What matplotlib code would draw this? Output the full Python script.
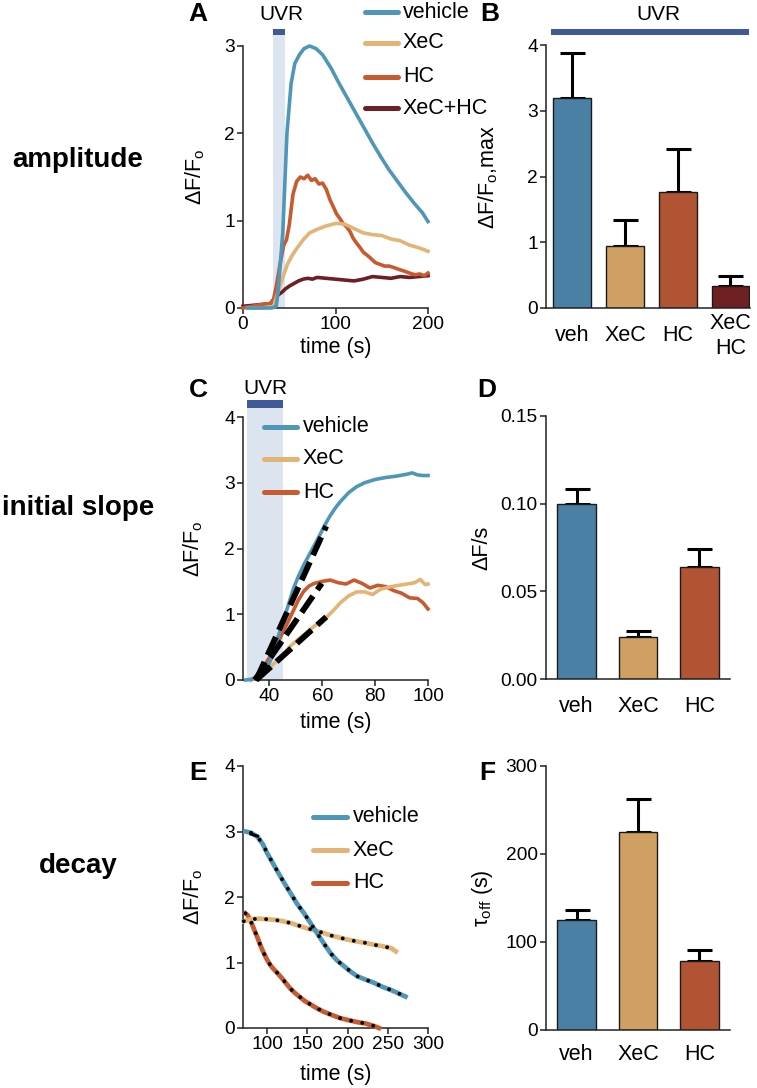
import numpy as np
import matplotlib
matplotlib.use('Agg')
import matplotlib.pyplot as plt
from matplotlib.lines import Line2D
from matplotlib.patches import Rectangle

plt.rcParams['font.family'] = ['Liberation Sans', 'DejaVu Sans']
plt.rcParams['mathtext.fontset'] = 'custom'
plt.rcParams['mathtext.rm'] = 'Liberation Sans'
plt.rcParams['mathtext.it'] = 'Liberation Sans:italic'
plt.rcParams['mathtext.bf'] = 'Liberation Sans:bold'

# ---------------- data ----------------
# Panel A (amplitude traces)
a_veh_t = [5, 20, 31, 36, 38, 43, 47.5, 52, 56, 61, 66, 72, 79, 86, 95, 104, 113, 122, 131, 140, 149, 158, 167, 176, 185, 194, 200]
a_veh_v = [0, 0, 0, 0.02, 0.2, 0.86, 2.0, 2.57, 2.8, 2.9, 2.97, 3.0, 2.97, 2.9, 2.75, 2.57, 2.4, 2.23, 2.06, 1.89, 1.73, 1.58, 1.45, 1.32, 1.2, 1.09, 0.99]
a_xec_t = [5, 20, 33, 36, 40, 44, 48, 53, 58, 65, 72, 80, 90, 101, 110, 120, 130, 140, 150, 160, 170, 180, 190, 200]
a_xec_v = [0, 0, 0.02, 0.12, 0.25, 0.38, 0.5, 0.6, 0.68, 0.78, 0.86, 0.9, 0.94, 0.97, 0.96, 0.91, 0.86, 0.84, 0.83, 0.79, 0.77, 0.72, 0.69, 0.65]
a_hc_t = [0, 10, 20, 29, 33, 36, 40, 44, 47, 50, 54, 58, 62, 66, 70, 74, 78, 82, 86, 90, 94, 98, 101, 105, 108, 112, 116, 119, 123, 126, 130, 137, 143, 148, 153, 158, 164, 169, 175, 180, 186, 191, 196, 200]
a_hc_v = [0, 0.02, 0.04, 0.05, 0.1, 0.25, 0.5, 0.72, 0.78, 0.95, 1.3, 1.45, 1.5, 1.48, 1.52, 1.46, 1.48, 1.42, 1.43, 1.36, 1.24, 1.15, 1.08, 1.02, 0.97, 0.93, 0.87, 0.8, 0.74, 0.7, 0.64, 0.58, 0.52, 0.5, 0.48, 0.48, 0.46, 0.44, 0.42, 0.4, 0.38, 0.39, 0.37, 0.4]
a_xh_t = [0, 10, 20, 30, 34, 38, 42, 46, 50, 55, 60, 65, 70, 75, 80, 90, 100, 110, 120, 130, 140, 150, 160, 170, 180, 190, 200]
a_xh_v = [0.02, 0.03, 0.04, 0.05, 0.08, 0.15, 0.18, 0.22, 0.25, 0.28, 0.31, 0.33, 0.34, 0.33, 0.35, 0.34, 0.33, 0.32, 0.31, 0.33, 0.36, 0.35, 0.34, 0.36, 0.35, 0.36, 0.37]

# Panel B (max amplitude bars)
b_labels = ['veh', 'XeC', 'HC', 'XeC\nHC']
b_vals = [3.2, 0.94, 1.77, 0.34]
b_err = [0.68, 0.40, 0.65, 0.14]

# Panel C (initial slope traces)
c_veh_t = [31, 33, 35, 37, 39, 41, 43, 45, 47, 49, 51, 53, 55, 57, 59, 61, 63, 65, 67, 70, 73, 76, 80, 84, 88, 92, 94, 96, 98, 100]
c_veh_v = [0, 0.01, 0.03, 0.08, 0.18, 0.35, 0.62, 0.88, 1.12, 1.38, 1.58, 1.75, 1.9, 2.05, 2.2, 2.36, 2.5, 2.62, 2.72, 2.85, 2.94, 3.0, 3.05, 3.08, 3.1, 3.13, 3.15, 3.12, 3.11, 3.11]
c_xec_t = [33, 35, 37, 39, 41, 43, 45, 48, 51, 54, 57, 61, 64, 67, 70, 73, 76, 79, 82, 86, 89, 92, 95, 97, 99, 100]
c_xec_v = [0, 0.03, 0.08, 0.15, 0.22, 0.3, 0.38, 0.52, 0.62, 0.72, 0.82, 0.93, 1.05, 1.18, 1.28, 1.34, 1.34, 1.3, 1.38, 1.42, 1.44, 1.46, 1.48, 1.53, 1.45, 1.46]
c_hc_t = [33, 35, 37, 39, 41, 43, 45, 47, 49, 51, 53, 55, 57, 60, 63, 66, 69, 72, 75, 78, 81, 84, 87, 90, 93, 96, 98, 100]
c_hc_v = [0, 0.05, 0.15, 0.28, 0.4, 0.55, 0.72, 0.88, 1.05, 1.22, 1.35, 1.43, 1.47, 1.5, 1.52, 1.48, 1.46, 1.52, 1.47, 1.4, 1.44, 1.42, 1.36, 1.32, 1.25, 1.24, 1.18, 1.08]
c_fit_veh_t, c_fit_veh_v = [35, 61.5], [0, 2.34]
c_fit_xec_t, c_fit_xec_v = [35, 61.5], [0, 0.96]
c_fit_hc_t, c_fit_hc_v = [34.5, 59.8], [0, 1.47]

# Panel D (slope bars)
d_labels = ['veh', 'XeC', 'HC']
d_vals = [0.100, 0.024, 0.064]
d_err = [0.0085, 0.0035, 0.0100]

# Panel E (decay traces)
e_veh_t = [73, 80, 88, 95, 100, 106, 112, 120, 129, 137, 146, 154, 162, 170, 179, 187, 196, 204, 212, 222, 233, 243, 254, 263, 272]
e_veh_v = [3.0, 2.98, 2.92, 2.8, 2.67, 2.54, 2.41, 2.24, 2.06, 1.9, 1.75, 1.6, 1.45, 1.3, 1.14, 1.03, 0.94, 0.86, 0.79, 0.74, 0.69, 0.63, 0.58, 0.53, 0.48]
e_xec_t = [71, 80, 90, 100, 110, 120, 130, 140, 150, 160, 170, 180, 190, 200, 212, 222, 233, 243, 254, 260]
e_xec_v = [1.63, 1.66, 1.67, 1.66, 1.65, 1.63, 1.6, 1.56, 1.52, 1.49, 1.45, 1.41, 1.38, 1.35, 1.32, 1.3, 1.27, 1.25, 1.22, 1.17]
e_hc_t = [73, 76, 80, 84, 88, 92, 96, 100, 104, 108, 112, 117, 121, 125, 129, 135, 141, 147, 154, 162, 170, 180, 191, 201, 212, 222, 233, 239]
e_hc_v = [1.75, 1.72, 1.62, 1.5, 1.38, 1.25, 1.14, 1.04, 0.96, 0.9, 0.85, 0.78, 0.72, 0.66, 0.6, 0.53, 0.47, 0.41, 0.36, 0.3, 0.25, 0.2, 0.15, 0.12, 0.09, 0.07, 0.03, 0.0]

# Panel F (tau bars)
f_labels = ['veh', 'XeC', 'HC']
f_vals = [125, 225, 78]
f_err = [11, 38, 13]

row_labels = ['amplitude', 'initial slope', 'decay']
legend_names = ['vehicle', 'XeC', 'HC', 'XeC+HC']

# ---------------- style ----------------
W, H = 757, 1088
C_VEH = '#4F97B8'
C_XEC = '#E2B476'
C_HC = '#C85A30'
C_XH = '#6E1E24'
B_VEH = '#4A80A3'
B_XEC = '#CFA062'
B_HC = '#B05434'
B_XH = '#6E1F22'
C_UVR = '#3E5A9A'
C_SHADE = '#DCE4F0'
LW = 2.6

fig = plt.figure(figsize=(W / 100, H / 100), dpi=100)


def px(x, y):
    return x / W, 1 - y / H


def add_ax(l, t, r, b):
    ax = fig.add_axes([l / W, 1 - b / H, (r - l) / W, (b - t) / H])
    for s in ['top', 'right']:
        ax.spines[s].set_visible(False)
    for s in ['left', 'bottom']:
        ax.spines[s].set_linewidth(1.1)
        ax.spines[s].set_color('#222222')
    ax.tick_params(length=4, width=1.1, labelsize=13.8, color='#222222', pad=2)
    ax.set_facecolor('none')
    return ax


def legend(x0, x1, xt, ys, names, colors):
    for y, n, c in zip(ys, names, colors):
        fig.add_artist(Line2D([x0 / W, x1 / W], [1 - y / H, 1 - y / H], color=c, lw=3.6,
                              solid_capstyle='round', transform=fig.transFigure))
        fig.text(xt / W, 1 - y / H, n, fontsize=15.5, va='center', ha='left')


ylab_o = 'ΔF/F$_\\mathrm{o}$'

# ---------- Panel A ----------
axA = add_ax(243, 46, 428, 308)
axA.set_xlim(0, 200)
axA.set_ylim(0, 3)
axA.add_patch(Rectangle((32, 0), 13, 3.13, color=C_SHADE, clip_on=False, zorder=0, lw=0))
axA.add_patch(Rectangle((32, 3.13), 13, 0.07, color=C_UVR, clip_on=False, zorder=1, lw=0))
for t, v, c in [(a_xh_t, a_xh_v, C_XH), (a_hc_t, a_hc_v, C_HC), (a_xec_t, a_xec_v, C_XEC), (a_veh_t, a_veh_v, C_VEH)]:
    axA.plot(t, v, color=c, lw=LW, clip_on=False, zorder=3)
axA.set_xticks([0, 100, 200])
axA.set_yticks([0, 1, 2, 3])
axA.set_xlabel('time (s)', fontsize=15.5, labelpad=3)
axA.set_ylabel(ylab_o, fontsize=15.5)
axA.yaxis.set_label_coords(-0.195, 0.5)
fig.text(*px(281, 15), 'UVR', fontsize=15, ha='center', va='center')
legend(365, 398, 403, [12, 43, 77, 108], legend_names, [C_VEH, C_XEC, C_HC, C_XH])

# ---------- Panel B ----------
axB = add_ax(546, 45, 750, 308)
xb = np.arange(len(b_vals))
axB.bar(xb, b_vals, width=0.72, color=[B_VEH, B_XEC, B_HC, B_XH], edgecolor='#1a1a1a', lw=1.0, zorder=2)
axB.errorbar(xb, b_vals, yerr=[np.zeros(len(b_err)), b_err], fmt='none', ecolor='black',
             elinewidth=2.2, capsize=9, capthick=2.2, zorder=1)
axB.set_xlim(-0.5, 3.37)
axB.set_ylim(0, 4)
axB.set_yticks([0, 1, 2, 3, 4])
axB.set_xticks(xb)
axB.set_xticklabels(b_labels, fontsize=15.5)
for lab in axB.get_xticklabels():
    lab.set_va('center')
    lab.set_linespacing(1.25)
axB.tick_params(axis='x', length=0, pad=20)
axB.set_ylabel('ΔF/F$_\\mathrm{o}$,max', fontsize=15.5)
axB.yaxis.set_label_coords(-0.225, 0.5)
fig.add_artist(Rectangle(px(551, 35), 198 / W, 6 / H, color=C_UVR, transform=fig.transFigure, lw=0))
fig.text(*px(658, 15), 'UVR', fontsize=15, ha='center', va='center')

# ---------- Panel C ----------
axC = add_ax(243, 417, 428, 680)
axC.set_xlim(30, 100)
axC.set_ylim(0, 4)
axC.add_patch(Rectangle((31.5, 0), 13.8, 4.14, color=C_SHADE, clip_on=False, zorder=0, lw=0))
axC.add_patch(Rectangle((31.5, 4.14), 13.8, 0.12, color=C_UVR, clip_on=False, zorder=1, lw=0))
for t, v, c in [(c_hc_t, c_hc_v, C_HC), (c_xec_t, c_xec_v, C_XEC), (c_veh_t, c_veh_v, C_VEH)]:
    axC.plot(t, v, color=c, lw=LW, clip_on=False, zorder=3)
for t, v in [(c_fit_veh_t, c_fit_veh_v), (c_fit_xec_t, c_fit_xec_v), (c_fit_hc_t, c_fit_hc_v)]:
    axC.plot(t, v, color='black', lw=4.2, dashes=(3.4, 1.3), clip_on=False, zorder=4)
axC.set_xticks([40, 60, 80, 100])
axC.set_yticks([0, 1, 2, 3, 4])
axC.set_xlabel('time (s)', fontsize=15.5, labelpad=5)
axC.set_ylabel(ylab_o, fontsize=15.5)
axC.yaxis.set_label_coords(-0.205, 0.5)
fig.text(*px(265, 389), 'UVR', fontsize=15, ha='center', va='center')
legend(264, 297, 303, [427, 459, 492], legend_names[:3], [C_VEH, C_XEC, C_HC])

# ---------- Panel D ----------
axD = add_ax(546, 416, 730, 679)
xd = np.arange(len(d_vals))
axD.bar(xd, d_vals, width=0.63, color=[B_VEH, B_XEC, B_HC], edgecolor='#1a1a1a', lw=1.0, zorder=2)
axD.errorbar(xd, d_vals, yerr=[np.zeros(len(d_err)), d_err], fmt='none', ecolor='black',
             elinewidth=2.2, capsize=9, capthick=2.2, zorder=1)
axD.set_xlim(-0.5, 2.5)
axD.set_ylim(0, 0.15)
axD.set_yticks([0, 0.05, 0.10, 0.15])
axD.set_yticklabels(['0.00', '0.05', '0.10', '0.15'])
axD.set_xticks(xd)
axD.set_xticklabels(d_labels, fontsize=15.5)
axD.tick_params(axis='x', length=0, pad=12)
axD.set_ylabel('ΔF/s', fontsize=15.5)
axD.yaxis.set_label_coords(-0.29, 0.5)

# ---------- Panel E ----------
axE = add_ax(243, 766, 428, 1028)
axE.set_xlim(70, 300)
axE.set_ylim(0, 4)
for t, v, c in [(e_hc_t, e_hc_v, C_HC), (e_xec_t, e_xec_v, C_XEC), (e_veh_t, e_veh_v, C_VEH)]:
    axE.plot(t, v, color=c, lw=3.4, clip_on=False, zorder=3)
axE.plot(e_veh_t[1:3], [2.96, 2.93], color='black', lw=2.2, zorder=4)
for t, v in [(e_veh_t[1:], e_veh_v[1:]), (e_xec_t, e_xec_v), (e_hc_t, e_hc_v)]:
    axE.plot(t, v, color='black', lw=2.8, linestyle=(0, (0.01, 2.9)), dash_capstyle='round',
             clip_on=False, zorder=4)
axE.set_xticks([100, 150, 200, 250, 300])
axE.set_yticks([0, 1, 2, 3, 4])
axE.set_xlabel('time (s)', fontsize=15.5, labelpad=8)
axE.set_ylabel(ylab_o, fontsize=15.5)
axE.yaxis.set_label_coords(-0.205, 0.5)
legend(313, 347, 353, [817, 850, 883], legend_names[:3], [C_VEH, C_XEC, C_HC])

# ---------- Panel F ----------
axF = add_ax(546, 766, 730, 1030)
xf = np.arange(len(f_vals))
axF.bar(xf, f_vals, width=0.63, color=[B_VEH, B_XEC, B_HC], edgecolor='#1a1a1a', lw=1.0, zorder=2)
axF.errorbar(xf, f_vals, yerr=[np.zeros(len(f_err)), f_err], fmt='none', ecolor='black',
             elinewidth=2.2, capsize=9, capthick=2.2, zorder=1)
axF.set_xlim(-0.5, 2.5)
axF.set_ylim(0, 300)
axF.set_yticks([0, 100, 200, 300])
axF.set_xticks(xf)
axF.set_xticklabels(f_labels, fontsize=15.5)
axF.tick_params(axis='x', length=0, pad=10)
axF.set_ylabel('τ$_\\mathrm{off}$ (s)', fontsize=15.5)
axF.yaxis.set_label_coords(-0.277, 0.5)

# ---------- panel letters and row labels ----------
for letter, (x, y) in zip('ABCDEF', [(198, 14), (490, 14), (198, 390), (487, 390), (198, 773), (487, 773)]):
    fig.text(*px(x, y), letter, fontsize=19, fontweight='bold', ha='center', va='center')
for lab, y in zip(row_labels, [160, 508, 866]):
    fig.text(*px(78, y), lab, fontsize=20, fontweight='bold', ha='center', va='center')

fig.savefig('out.png', dpi=100)
